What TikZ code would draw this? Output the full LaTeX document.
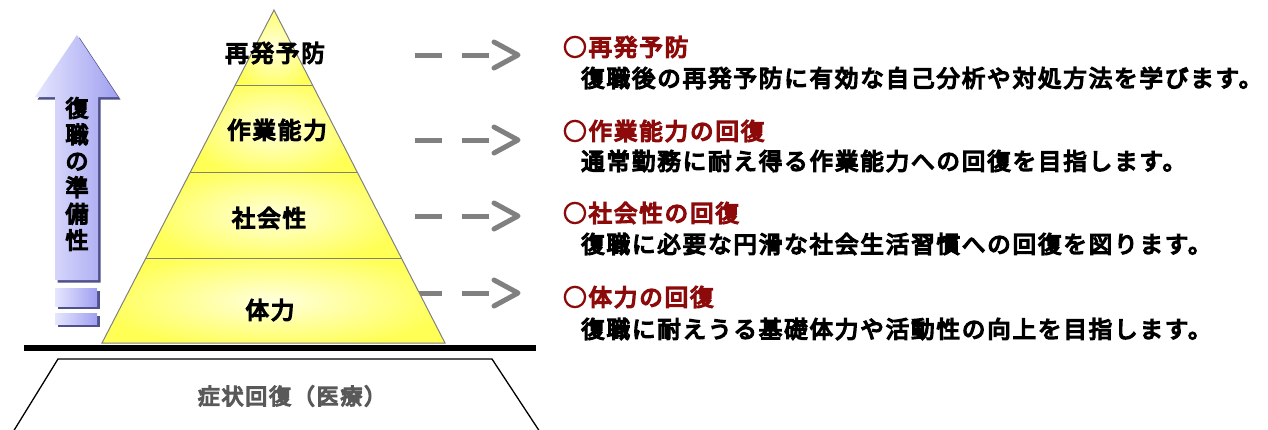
\documentclass[tikz,border=0pt]{standalone}
\usepackage{fontspec}
\newfontfamily\jp{Noto Sans CJK JP}[FakeBold=6, LetterSpace=8]
\newfontfamily\jpv{Noto Sans CJK JP}[FakeBold=6]
\usetikzlibrary{calc}
\definecolor{dred}{HTML}{8C0A0A}
\definecolor{arrgray}{HTML}{808080}
\definecolor{bandedge}{HTML}{FFFF55}
\definecolor{bandmid}{HTML}{FFFFDC}
\definecolor{lav}{HTML}{E6E6FF}
\definecolor{lavd}{HTML}{A0A0F0}
\definecolor{navy}{HTML}{50508C}
\definecolor{txtgray}{HTML}{595959}
\tikzset{
  jpf/.style={font=\jp\fontsize{23.5}{26}\selectfont},
  lvl/.style={jpf, text=black, inner sep=0pt},
  ttl/.style={jpf, text=dred, anchor=west, inner sep=0pt},
  body/.style={jpf, text=black, anchor=west, inner sep=0pt},
  dasharr/.style={draw=arrgray, line width=5pt, dash pattern=on 27pt off 20pt},
  chev/.style={draw=arrgray, line width=5pt, line cap=round, line join=round},
  band/.style={draw=arrgray, line width=1pt},
}
\begin{document}
\begin{tikzpicture}[x=1pt,y=-1pt]
\useasboundingbox (0,0) rectangle (1268,429);

% ---- dashed arrows (behind pyramid)
\foreach \yy/\nm in {55/a,140/b,216/c,293/d}{
  \coordinate (s\nm) at (415,\yy);
  \coordinate (e\nm) at (490,\yy);
  \draw[dasharr] (s\nm) -- (e\nm);
  \coordinate (t\nm) at (518,\yy);
  \draw[chev] ($(t\nm)+(-24,-13)$) -- (t\nm) -- ($(t\nm)+(-24,13)$);
}

% ---- pyramid bands
\coordinate (apex) at (274,10);
\coordinate (bl) at (102,343);
\coordinate (br) at (445,343);
\foreach \ya/\yb in {10/85,85/172,172/258,258/343}{
  \pgfmathsetmacro{\xla}{274-0.516517*(\ya-10)}
  \pgfmathsetmacro{\xra}{274+0.513514*(\ya-10)}
  \pgfmathsetmacro{\xlb}{274-0.516517*(\yb-10)}
  \pgfmathsetmacro{\xrb}{274+0.513514*(\yb-10)}
  \begin{scope}
    \clip (\xla,\ya) -- (\xra,\ya) -- (\xrb,\yb) -- (\xlb,\yb) -- cycle;
    \shade[inner color=bandmid, outer color=bandedge]
      (\xlb-5,\ya-8) rectangle (\xrb+5,\yb+8);
  \end{scope}
}
\draw[band] (apex) -- (br) -- (bl) -- cycle;
\foreach \yy in {85,172,258}{
  \pgfmathsetmacro{\xl}{274-0.516517*(\yy-10)}
  \pgfmathsetmacro{\xr}{274+0.513514*(\yy-10)}
  \draw[band] (\xl,\yy) -- (\xr,\yy);
}

\node[lvl] (l1) at (275,53) {再発予防};
\node[lvl] (l2) at (277,130) {作業能力};
\node[lvl] (l3) at (269,218) {社会性};
\node[lvl] (l4) at (270,310) {体力};

% ---- ground line and base trapezoid
\coordinate (g1) at (24,348);
\coordinate (g2) at (536,348);
\draw[line width=5.5pt] (g1) -- (g2);
\draw[line width=1.3pt] (13,432) -- (58,359) -- (492,359) -- (540,432);
\node[text=txtgray, inner sep=0pt, font=\jp\fontsize{22}{24}\selectfont] (base) at (292,396) {症状回復（医療）};

% ---- left arrow
\begin{scope}[shift={(2.5,2.5)}]
  \fill[navy] (77,35) -- (118,97) -- (98,97) -- (98,280) -- (55,280) -- (55,97) -- (35,97) -- cycle;
  \fill[navy] (55,288) rectangle (97,306);
  \fill[navy] (55,313) rectangle (97,324);
\end{scope}
\shade[left color=lav, right color=lavd]
  (77,35) -- (118,97) -- (98,97) -- (98,280) -- (55,280) -- (55,97) -- (35,97) -- cycle;
\shade[left color=lav, right color=lavd] (55,288) rectangle (97,306);
\shade[left color=lav, right color=lavd] (55,313) rectangle (97,324);
\node[inner sep=0pt, align=center, font=\jpv\fontsize{23}{26.4}\selectfont] (vt) at (77,174)
  {復\\職\\の\\準\\備\\性};

% ---- right descriptions
\node[ttl] (t1) at (563,47) {○再発予防};
\node[body] (b1) at (581,78) {復職後の再発予防に有効な自己分析や対処方法を学びます。};
\node[ttl] (t2) at (563,131) {○作業能力の回復};
\node[body] (b2) at (581,161) {通常勤務に耐え得る作業能力への回復を目指します。};
\node[ttl] (t3) at (563,213) {○社会性の回復};
\node[body] (b3) at (581,244) {復職に必要な円滑な社会生活習慣への回復を図ります。};
\node[ttl] (t4) at (563,297) {○体力の回復};
\node[body] (b4) at (581,329) {復職に耐えうる基礎体力や活動性の向上を目指します。};
\end{tikzpicture}
\end{document}
